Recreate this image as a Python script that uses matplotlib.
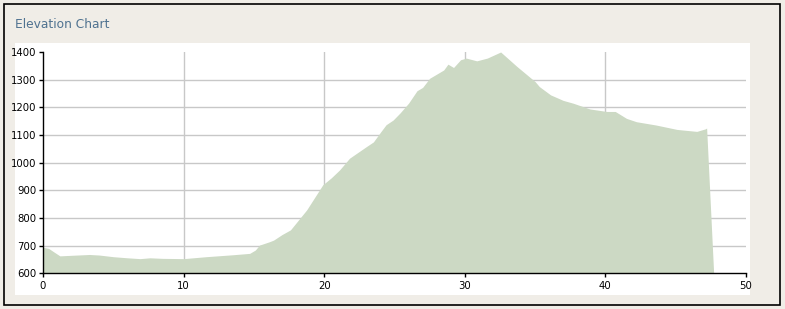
import matplotlib
matplotlib.use("Agg")
import matplotlib.pyplot as plt
from matplotlib.patches import Rectangle

# distance (x) and elevation (y)
distance = [0.0, 0.4, 0.75, 1.2, 2.0, 3.3, 4.0, 5.0, 6.0, 6.9, 7.6, 8.5, 10.0, 11.6,
            13.5, 14.7, 15.1, 15.4, 16.1, 16.4, 17.0, 17.6, 18.75, 19.9, 20.5, 21.1,
            21.8, 23.0, 23.5, 24.0, 24.4, 24.9, 25.4, 26.0, 26.6, 27.0, 27.5, 28.5,
            28.8, 29.2, 29.7, 30.1, 30.85, 31.6, 32.55, 33.7, 35.0, 35.3, 36.1, 37.0,
            37.7, 38.9, 40.1, 40.7, 41.5, 42.2, 43.6, 45.1, 46.5, 47.1, 47.2, 47.7]
elevation = [694, 690, 678, 663, 665, 668, 666, 660, 656, 653, 656, 654, 653, 660,
             667, 672, 684, 702, 714, 720, 740, 757, 829, 920, 945, 974,
             1016, 1058, 1075, 1110, 1137, 1154, 1180, 1215, 1260, 1272, 1305, 1335,
             1356, 1344, 1372, 1378, 1368, 1378, 1400, 1348, 1293, 1275, 1245, 1225,
             1215, 1194, 1185, 1185, 1160, 1148, 1136, 1120, 1113, 1122, 1125, 600]

x_ticks = [0, 10, 20, 30, 40, 50]
y_ticks = [600, 700, 800, 900, 1000, 1100, 1200, 1300, 1400]

W, H = 785, 309
fig = plt.figure(figsize=(W / 100, H / 100), dpi=100)
fig.patch.set_facecolor("#f0ede7")

# outer frame and white panel, kept behind the axes
fig.add_artist(Rectangle((4 / W, 1 - 305 / H), 776 / W, 301 / H, transform=fig.transFigure,
                         facecolor="#f0ede7", edgecolor="black", linewidth=1.2, zorder=-20))
fig.add_artist(Rectangle((15 / W, 1 - 295 / H), 735 / W, 252 / H, transform=fig.transFigure,
                         facecolor="white", edgecolor="none", zorder=-10))
fig.text(15 / W, 1 - 25 / H, "Elevation Chart", color="#4f7290", fontsize=8.8,
         va="center", ha="left")

ax = fig.add_axes([43 / W, 1 - 273.3 / H, 703 / W, 221.3 / H])
ax.set_facecolor("none")
ax.fill_between(distance, elevation, 600, color="#ccd9c4", linewidth=0, zorder=2)

ax.set_xlim(0, 50)
ax.set_ylim(600, 1400)
ax.set_xticks(x_ticks)
ax.set_yticks(y_ticks)
ax.tick_params(labelsize=7.3, length=3, width=1, direction="out", pad=1.5)
ax.tick_params(axis="x", pad=2.5)
ax.grid(color="#c8c8c8", linewidth=1)
ax.set_axisbelow(True)
for g in (ax.yaxis.get_gridlines()[0], ax.yaxis.get_gridlines()[-1],
          ax.xaxis.get_gridlines()[0], ax.xaxis.get_gridlines()[-1]):
    g.set_visible(False)

for s in ("top", "right"):
    ax.spines[s].set_visible(False)
for s in ("left", "bottom"):
    ax.spines[s].set_linewidth(1)
    ax.spines[s].set_zorder(3)

fig.savefig("out.png", dpi=100, facecolor=fig.get_facecolor())
